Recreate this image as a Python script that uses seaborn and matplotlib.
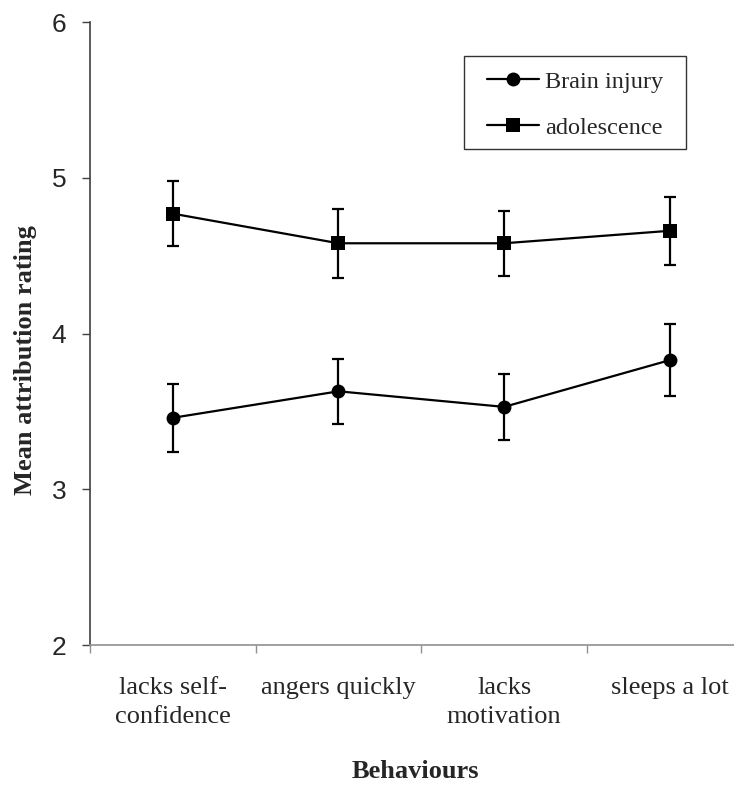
import matplotlib
matplotlib.use("Agg")
import matplotlib.pyplot as plt
from matplotlib.patches import Rectangle
import seaborn as sns
import pandas as pd
import numpy as np

# Behaviour categories shown on the x axis
behaviours = ["lacks self-\nconfidence", "angers quickly", "lacks\nmotivation", "sleeps a lot"]

# Mean attribution ratings and error half-widths per group
brain_injury_mean = [3.46, 3.63, 3.53, 3.83]
brain_injury_err = [0.22, 0.21, 0.21, 0.23]
adolescence_mean = [4.77, 4.58, 4.58, 4.66]
adolescence_err = [0.21, 0.22, 0.21, 0.22]

group_names = ["Brain injury", "adolescence"]
y_ticks = [2, 3, 4, 5, 6]

sns.set_theme(style="white")
plt.rcParams["font.family"] = ["Liberation Serif", "DejaVu Serif"]

df = pd.DataFrame({
    "pos": list(range(len(behaviours))) * 2,
    "mean": brain_injury_mean + adolescence_mean,
    "err": brain_injury_err + adolescence_err,
    "group": [group_names[0]] * len(behaviours) + [group_names[1]] * len(behaviours),
})

W, H = 734, 785
fig = plt.figure(figsize=(W / 100, H / 100), dpi=100)
ax = fig.add_axes([90 / W, 1 - 645.3 / H, 662.6 / W, 623.3 / H])

sns.lineplot(
    data=df, x="pos", y="mean", hue="group", style="group",
    markers={group_names[0]: "o", group_names[1]: "s"}, dashes=False,
    palette={group_names[0]: "black", group_names[1]: "black"},
    markersize=10, linewidth=1.6, markeredgewidth=0, ax=ax, legend=False,
)

for g in group_names:
    sub = df[df["group"] == g]
    ax.errorbar(sub["pos"], sub["mean"], yerr=sub["err"], fmt="none",
                ecolor="black", elinewidth=1.6, capsize=4.5, capthick=1.6, zorder=3)

ax.set_xlim(-0.5, 3.5)
ax.set_ylim(2, 6)

# y axis
ax.set_yticks(y_ticks)
ax.set_yticklabels([str(t) for t in y_ticks], family=["Liberation Sans", "DejaVu Sans"], fontsize=19)
ax.tick_params(axis="y", direction="out", length=6, width=1, color="#404040", pad=11, left=True)

# x axis: tick marks at category boundaries, labels at centres
ax.set_xticks(np.arange(-0.5, 4.0, 1.0))
ax.set_xticklabels([])
ax.set_xticks(range(len(behaviours)), minor=True)
ax.set_xticklabels(behaviours, minor=True, fontsize=19, linespacing=1.4, va="top")
ax.tick_params(axis="x", which="major", direction="out", length=6, width=1, color="#909090", bottom=True)
ax.tick_params(axis="x", which="minor", length=0, pad=23)

for side in ["top", "right"]:
    ax.spines[side].set_visible(False)
ax.spines["left"].set_color("#404040")
ax.spines["bottom"].set_color("#909090")
ax.spines["left"].set_linewidth(1.2)
ax.spines["bottom"].set_linewidth(1.2)

ax.set_xlabel("")
ax.set_ylabel("")
fig.text(415 / W, 1 - 771 / H, "Behaviours", fontsize=19, fontweight="bold",
         ha="center", va="center")
fig.text(26 / W, 1 - 360 / H, "Mean attribution rating", fontsize=19, fontweight="bold",
         rotation=90, ha="center", va="center")

# Legend entries, with a plain frame around them
handles = [
    plt.Line2D([], [], color="black", lw=1.6, marker="o", markersize=10, markeredgewidth=0),
    plt.Line2D([], [], color="black", lw=1.6, marker="s", markersize=10, markeredgewidth=0),
]
fig.legend(handles, group_names, loc="upper left",
           bbox_to_anchor=(487 / W, 1 - 70.5 / H),
           fontsize=17.5, frameon=False, handlelength=2.15,
           handletextpad=0.25, labelspacing=1.0, borderpad=0, borderaxespad=0)
fig.patches.append(Rectangle((463.7 / W, 1 - 149.3 / H), 222.3 / W, 93.6 / H,
                             transform=fig.transFigure, fill=False,
                             edgecolor="#333333", linewidth=1.0, zorder=5))

fig.savefig("out.png", dpi=100)
